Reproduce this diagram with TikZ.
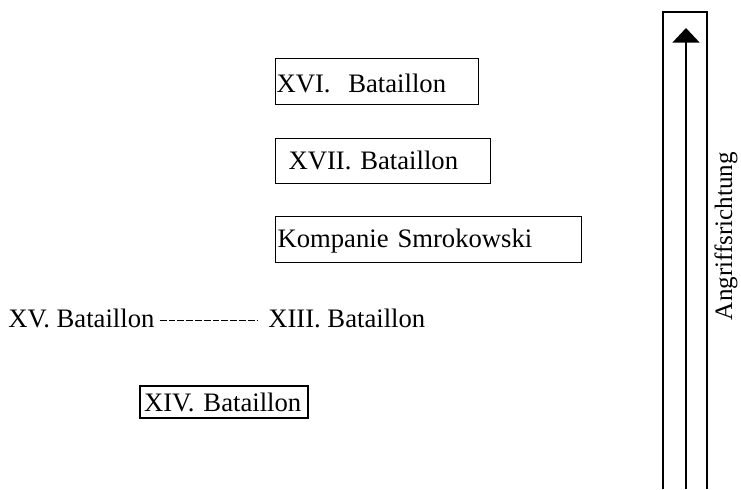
\documentclass[tikz,border=0pt]{standalone}
\usepackage{fontspec}
\setmainfont{Liberation Serif}
\usetikzlibrary{arrows.meta}
\begin{document}
\begin{tikzpicture}[x=0.75pt,y=-0.75pt,
  lbl/.style={font=\fontsize{20pt}{24pt}\selectfont, inner sep=0pt},
  unit/.style={lbl, draw, line width=0.8pt, anchor=north west, align=left, text depth=0pt},
  hyph/.style={line width=1.4pt, dash pattern=on 5.2pt off 1.4pt},
  panel/.style={line width=1.5pt},
  dir/.style={font=\fontsize{18.8pt}{22pt}\selectfont, inner sep=0pt}
]
\useasboundingbox (0,0) rectangle (741,489);

% boxed units
\node[unit, minimum width=203*0.75pt, minimum height=46*0.75pt, inner xsep=0.75pt,
      text width=201*0.75pt, text height=22*0.75pt] (b16) at (275,58) {XVI.\ \ Bataillon};
\node[unit, minimum width=215*0.75pt, minimum height=45*0.75pt, inner xsep=13*0.75pt,
      text width=189*0.75pt, text height=17*0.75pt] (b17) at (275,138) {XVII. Bataillon};
\node[unit, minimum width=306*0.75pt, minimum height=46*0.75pt, inner xsep=1.5pt,
      text width=302*0.75pt, text height=16*0.75pt] (ks) at (275,216) {Kompanie Smrokowski};
\node[unit, line width=1.5pt, minimum width=168*0.75pt, minimum height=32*0.75pt, inner xsep=4*0.75pt,
      text width=160*0.75pt, text height=18*0.75pt] (b14) at (139,385) {XIV. Bataillon};

% line of battalions
\node[lbl, anchor=base west] (b15) at (8,327) {XV. Bataillon};
\node[lbl, anchor=base west] (b13) at (268,327) {XIII. Bataillon};
\draw[hyph] ([xshift=3.75pt,yshift=4.9pt]b15.base east) -- ([xshift=-7.5pt,yshift=4.9pt]b13.base west);

% direction of attack
\coordinate (pl) at (663,489);
\coordinate (pr) at (707,489);
\coordinate (ab) at (686,489);
\coordinate (at) at (686,28);
\draw[panel] (pl) -- (663,12) -- (707,12) -- (pr);
\draw[panel, -{Triangle[width=20.25pt,length=11pt]}] (ab) -- (at);
\node[dir, rotate=90, anchor=base] (dirlbl) at (732,236) {Angriffsrichtung};
\end{tikzpicture}
\end{document}
